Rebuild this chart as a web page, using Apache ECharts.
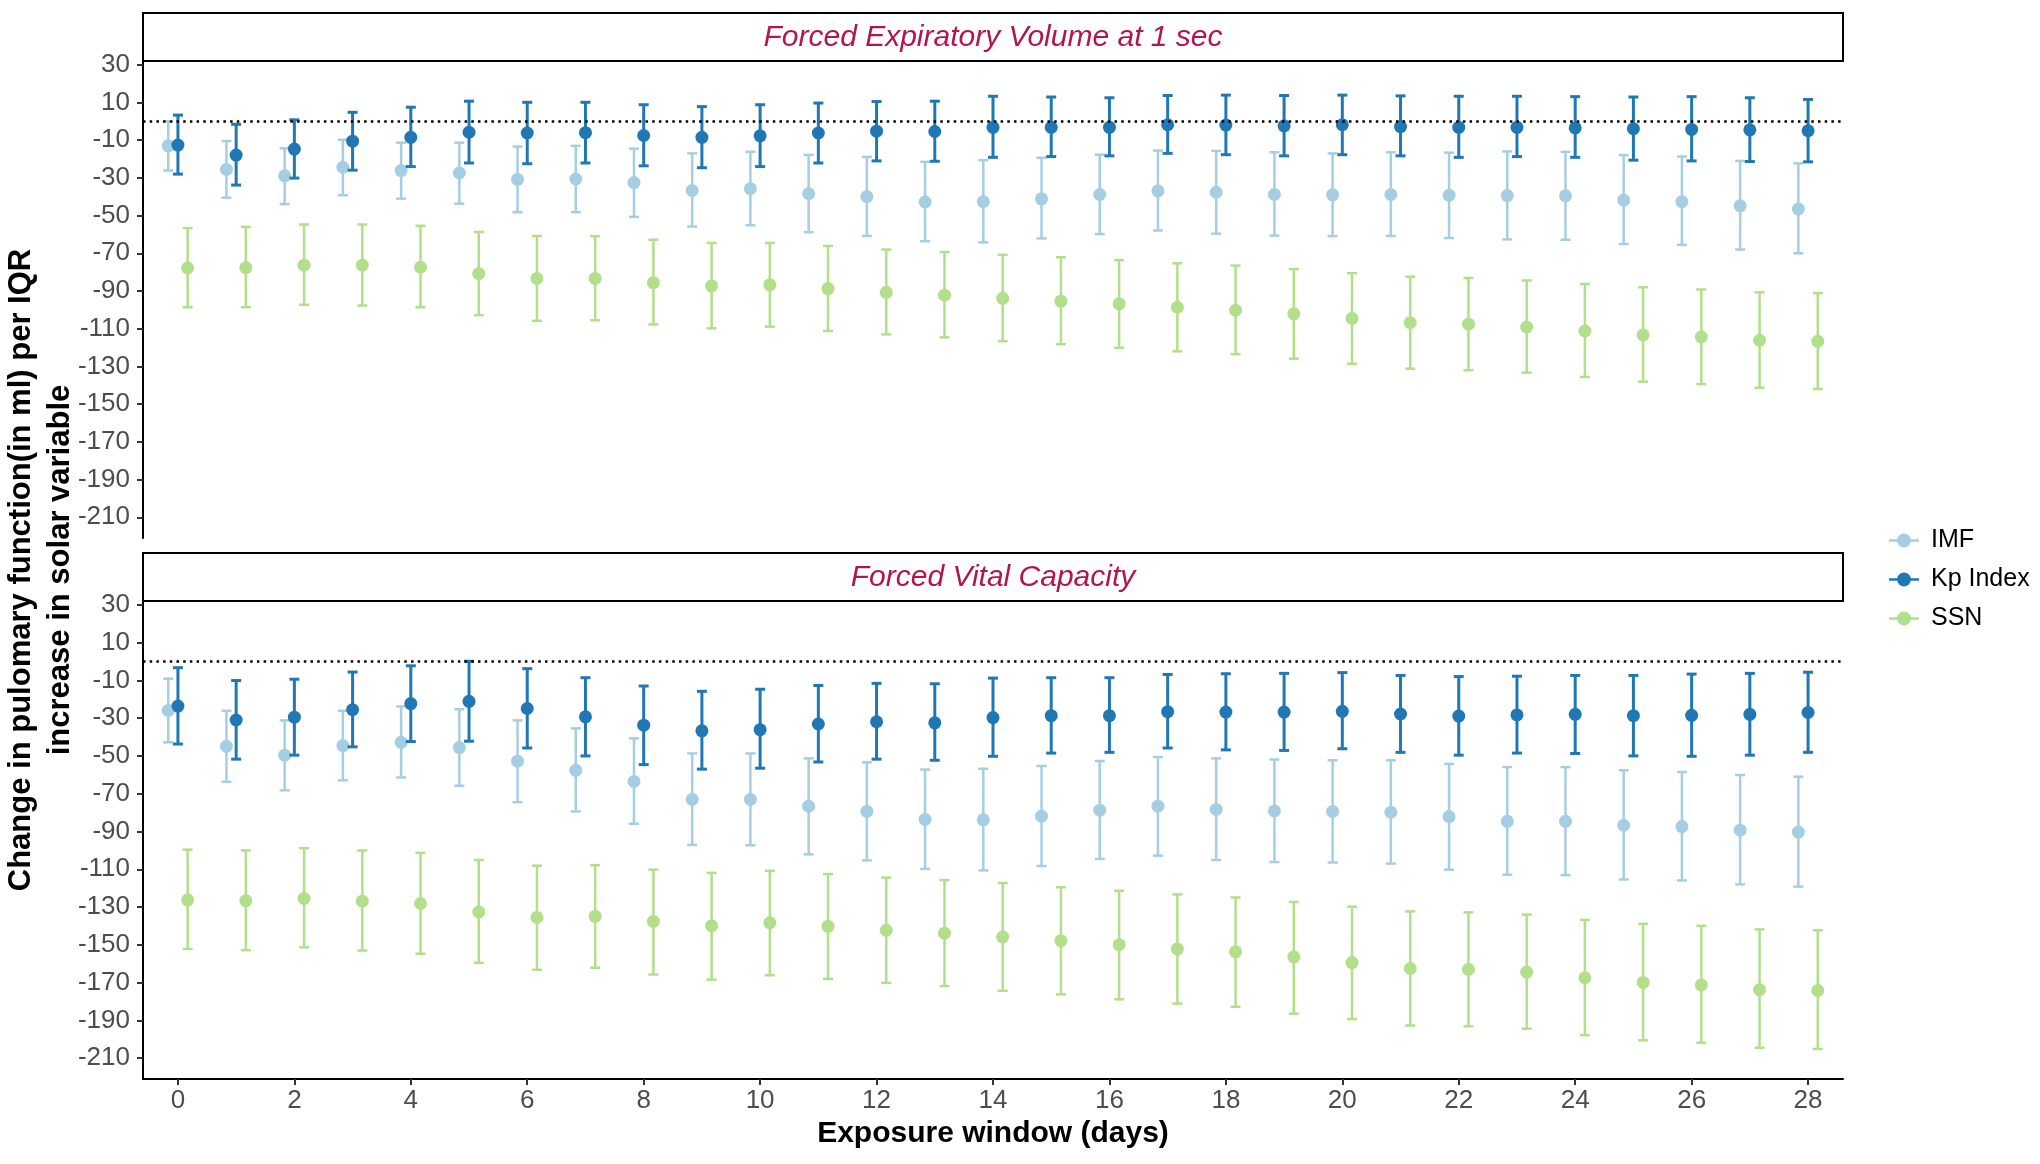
<!DOCTYPE html>
<html><head><meta charset="utf-8">
<script src="https://cdn.jsdelivr.net/npm/echarts@6/dist/echarts.min.js"></script>
<style>html,body{margin:0;padding:0;background:#fff}#c{width:2040px;height:1164px}</style>
</head><body><div id="c"></div>
<script>
// ---------- data ----------
const days = [0,1,2,3,4,5,6,7,8,9,10,11,12,13,14,15,16,17,18,19,20,21,22,23,24,25,26,27,28];
const xTicks = [0,2,4,6,8,10,12,14,16,18,20,22,24,26,28];
const yTicks = [30,10,-10,-30,-50,-70,-90,-110,-130,-150,-170,-190,-210];
const panelTitles = ['Forced Expiratory Volume at 1 sec', 'Forced Vital Capacity'];
const seriesNames = ['IMF', 'Kp Index', 'SSN'];

// Panel 1: FEV1
const fev1_imf_est = [-13.0,-25.5,-28.9,-24.4,-26.1,-27.4,-30.8,-30.6,-32.5,-36.7,-35.7,-38.4,-39.9,-42.8,-42.6,-41.1,-38.8,-36.9,-37.6,-38.8,-39.0,-38.8,-39.2,-39.4,-39.5,-41.8,-42.6,-44.8,-46.5];
const fev1_imf_lo  = [-26.1,-40.5,-43.9,-39.2,-41.0,-43.7,-48.2,-48.2,-50.7,-55.8,-55.1,-58.8,-60.8,-63.6,-64.2,-62.1,-59.8,-57.9,-59.6,-60.6,-60.9,-60.8,-61.9,-62.6,-62.8,-65.1,-65.5,-68.0,-70.0];
const fev1_imf_hi  = [0.0,-10.5,-14.3,-9.8,-11.3,-11.3,-13.4,-13.0,-14.5,-17.0,-16.2,-17.8,-18.9,-21.5,-20.6,-19.3,-17.7,-15.5,-15.7,-16.4,-17.0,-16.4,-16.6,-16.0,-16.2,-17.9,-18.7,-21.0,-22.3];

const fev1_kp_est = [-12.6,-17.9,-14.7,-10.5,-8.5,-5.8,-6.2,-6.0,-7.5,-8.5,-7.7,-6.2,-5.2,-5.4,-3.2,-3.2,-3.2,-1.8,-2.0,-2.4,-1.8,-2.8,-3.2,-3.2,-3.5,-3.9,-4.3,-4.5,-5.0];
const fev1_kp_lo  = [-28.0,-33.8,-30.1,-25.9,-24.0,-22.1,-22.5,-22.1,-23.6,-24.6,-24.0,-22.1,-21.0,-21.2,-19.1,-18.7,-18.3,-17.0,-17.7,-18.3,-17.7,-18.3,-19.1,-18.7,-19.1,-20.6,-21.0,-21.3,-21.5];
const fev1_kp_hi  = [3.3,-1.6,0.8,4.8,7.5,10.7,10.1,10.1,8.8,7.8,8.8,9.7,10.5,10.7,13.3,12.9,12.5,13.7,13.9,13.7,13.9,13.5,13.3,13.3,13.1,12.9,13.1,12.5,11.6];

const fev1_ssn_est = [-77.8,-77.6,-76.3,-76.3,-77.4,-80.8,-83.3,-83.3,-85.6,-87.3,-86.7,-88.7,-90.7,-92.2,-93.9,-95.4,-96.8,-98.6,-100.2,-102.1,-104.5,-106.8,-107.6,-109.1,-111.2,-113.3,-114.4,-116.1,-116.7];
const fev1_ssn_lo  = [-98.6,-98.6,-97.3,-97.7,-98.6,-102.8,-105.8,-105.5,-107.7,-109.8,-108.9,-111.2,-113.0,-114.6,-116.6,-118.2,-120.1,-122.0,-123.5,-125.9,-128.6,-131.2,-132.0,-133.3,-135.6,-138.1,-139.4,-141.3,-142.0];
const fev1_ssn_hi  = [-56.6,-56.0,-54.7,-54.7,-55.4,-58.7,-60.8,-60.9,-62.8,-64.5,-64.5,-66.1,-68.0,-69.3,-70.8,-72.1,-73.6,-75.3,-76.5,-78.4,-80.5,-82.4,-83.1,-84.4,-86.3,-88.0,-89.2,-90.7,-91.1];

// Panel 2: FVC
const fvc_imf_est = [-25.9,-44.9,-49.6,-44.5,-42.8,-45.6,-52.8,-57.6,-63.5,-73.0,-73.0,-76.6,-79.4,-83.6,-83.8,-81.9,-78.7,-76.6,-78.3,-79.1,-79.4,-79.8,-82.1,-84.6,-84.6,-86.7,-87.4,-89.3,-90.3];
const fvc_imf_lo  = [-42.8,-63.7,-68.2,-62.9,-61.4,-65.8,-74.5,-79.4,-85.9,-97.1,-97.3,-102.1,-105.3,-109.8,-110.6,-108.3,-104.5,-102.8,-105.1,-106.2,-106.4,-107.0,-110.2,-112.9,-113.1,-115.4,-115.9,-118.0,-119.2];
const fvc_imf_hi  = [-9.1,-26.1,-31.2,-26.1,-23.8,-25.3,-31.2,-35.4,-40.7,-48.7,-48.7,-51.3,-53.4,-57.2,-56.8,-55.3,-52.7,-50.6,-51.3,-51.9,-52.3,-52.3,-54.2,-55.9,-55.9,-57.6,-58.5,-60.1,-61.0];

const fvc_kp_est = [-23.6,-31.0,-29.5,-25.5,-22.3,-21.1,-24.9,-29.3,-33.7,-36.7,-36.1,-33.1,-31.9,-32.5,-29.7,-28.7,-28.7,-26.6,-26.8,-26.8,-26.4,-27.8,-28.9,-28.3,-28.0,-28.7,-28.5,-28.0,-27.0];
const fvc_kp_lo  = [-43.7,-51.7,-49.6,-45.2,-42.4,-42.2,-45.8,-50.0,-54.6,-57.0,-56.5,-53.2,-51.7,-52.3,-50.2,-48.5,-48.1,-45.8,-46.8,-47.1,-46.2,-48.1,-49.6,-48.5,-48.7,-50.0,-50.2,-49.6,-48.1];
const fvc_kp_hi  = [-3.3,-10.1,-9.4,-5.6,-2.3,0.1,-3.8,-8.6,-13.0,-15.8,-14.7,-12.7,-11.6,-11.8,-8.8,-8.6,-8.6,-6.9,-6.5,-6.3,-5.9,-7.4,-8.0,-7.8,-7.4,-7.4,-6.7,-6.3,-5.7];

const fvc_ssn_est = [-126.2,-126.6,-125.4,-126.9,-128.1,-132.6,-135.5,-134.9,-137.6,-139.9,-138.3,-140.2,-142.3,-143.8,-145.9,-147.8,-149.9,-152.2,-153.7,-156.4,-159.4,-162.5,-163.0,-164.4,-167.4,-169.9,-171.2,-173.7,-174.1];
const fvc_ssn_lo  = [-152.2,-152.8,-151.3,-153.0,-154.7,-159.5,-163.2,-162.1,-165.7,-168.4,-166.1,-168.0,-170.1,-171.8,-174.3,-176.2,-178.8,-181.1,-182.8,-186.4,-189.3,-192.7,-193.1,-194.4,-197.8,-200.5,-201.8,-204.5,-205.1];
const fvc_ssn_hi  = [-99.6,-100.0,-98.8,-100.0,-101.3,-105.1,-108.1,-107.8,-110.2,-111.9,-110.8,-112.5,-114.4,-115.7,-117.3,-119.5,-121.4,-123.3,-124.9,-127.3,-129.8,-132.3,-132.8,-134.0,-136.8,-138.9,-139.9,-141.8,-142.3];

// ---------- styling ----------
const FONT = "'Liberation Sans', Arial, Helvetica, sans-serif";
const colors = {'IMF':'#a6cee3','Kp Index':'#1f78b4','SSN':'#b2df8a'};
const dodge = {'IMF':-1/6,'Kp Index':0,'SSN':1/6};
const GL = 143, GW = 1700;
const grids = [{left:GL, width:GW, top:61, height:477},{left:GL, width:GW, top:601, height:478}];
const strips = [{y:13, h:48},{y:553, h:48}];

function makeSeries(panel, name, est, lo, hi, withZero) {
  const data = days.map((d, i) => [d, est[i], lo[i], hi[i]]);
  const s = {
    type:'custom', name, xAxisIndex:panel, yAxisIndex:panel,
    itemStyle:{color:colors[name]},
    encode:{x:0, y:[1,2,3]},
    data,
    renderItem(params, api) {
      const xv = api.value(0) + dodge[name];
      const pe = api.coord([xv, api.value(1)]);
      const pl = api.coord([xv, api.value(2)]);
      const ph = api.coord([xv, api.value(3)]);
      const c = colors[name];
      const lw = name === 'Kp Index' ? 3 : 2.5;
      const cap = 5;
      const st = {stroke:c, lineWidth:lw};
      return {type:'group', children:[
        {type:'line', shape:{x1:pl[0], y1:pl[1], x2:ph[0], y2:ph[1]}, style:st},
        {type:'line', shape:{x1:pl[0]-cap, y1:pl[1], x2:pl[0]+cap, y2:pl[1]}, style:st},
        {type:'line', shape:{x1:ph[0]-cap, y1:ph[1], x2:ph[0]+cap, y2:ph[1]}, style:st},
        {type:'circle', shape:{cx:pe[0], cy:pe[1], r:6.5}, style:{fill:c}}
      ]};
    }
  };
  if (withZero) {
    s.markLine = {silent:true, symbol:['none','none'], label:{show:false},
      lineStyle:{color:'#000', width:2.5, type:[2.5,4.2]}, data:[{yAxis:0}]};
  }
  return s;
}

const series = [
  makeSeries(0, 'IMF', fev1_imf_est, fev1_imf_lo, fev1_imf_hi, true),
  makeSeries(0, 'Kp Index', fev1_kp_est, fev1_kp_lo, fev1_kp_hi, false),
  makeSeries(0, 'SSN', fev1_ssn_est, fev1_ssn_lo, fev1_ssn_hi, false),
  makeSeries(1, 'IMF', fvc_imf_est, fvc_imf_lo, fvc_imf_hi, true),
  makeSeries(1, 'Kp Index', fvc_kp_est, fvc_kp_lo, fvc_kp_hi, false),
  makeSeries(1, 'SSN', fvc_ssn_est, fvc_ssn_lo, fvc_ssn_hi, false)
];

function xAxis(i) {
  const bottom = i === 1;
  return {
    type:'value', gridIndex:i, min:-0.6, max:28.6,
    splitLine:{show:false},
    axisLine:{show:bottom, onZero:false, lineStyle:{color:'#000', width:2}},
    axisTick:{show:bottom, length:6, lineStyle:{color:'#333', width:2}, customValues:xTicks},
    axisLabel:{show:bottom, fontSize:26, color:'#4d4d4d', fontFamily:FONT, margin:9, customValues:xTicks},
    name: bottom ? 'Exposure window (days)' : '',
    nameLocation:'middle', nameGap:40,
    nameTextStyle:{fontSize:30, fontWeight:'bold', color:'#000', fontFamily:FONT}
  };
}
function yAxis(i) {
  return {
    type:'value', gridIndex:i, min:-221, max:32,
    splitLine:{show:false},
    axisLine:{show:true, onZero:false, lineStyle:{color:'#000', width:2}},
    axisTick:{show:true, length:6, lineStyle:{color:'#333', width:2}, customValues:yTicks},
    axisLabel:{fontSize:26, color:'#4d4d4d', fontFamily:FONT, margin:13, customValues:yTicks}
  };
}

const graphics = [];
strips.forEach((s, i) => {
  graphics.push({type:'rect', shape:{x:GL, y:s.y, width:GW, height:s.h},
    style:{fill:'#fff', stroke:'#000', lineWidth:2}});
  graphics.push({type:'text', x:GL + GW/2, y:s.y + s.h/2 + 1,
    style:{text:panelTitles[i], font:"italic 30px " + FONT, fill:'#b3164f', align:'center', verticalAlign:'middle'}});
});
graphics.push({type:'text', x:41, y:570, rotation:Math.PI/2,
  style:{text:'Change in pulomary function(in ml) per IQR\nincrease in solar variable',
    font:"bold 31px " + FONT, fill:'#000', align:'center', verticalAlign:'middle', lineHeight:39}});

const legendIcon = 'path://M0,5 L26,5 L26,7 L0,7 Z M13,0 A6,6 0 1,1 12.99,0 Z';

const chart = echarts.init(document.getElementById('c'), null, {renderer:'canvas'});
chart.setOption({
  backgroundColor:'#fff',
  animation:false,
  grid:grids,
  xAxis:[xAxis(0), xAxis(1)],
  yAxis:[yAxis(0), yAxis(1)],
  legend:{orient:'vertical', left:1884, top:523, itemGap:14, itemWidth:30, itemHeight:14,
    selectedMode:false,
    data:seriesNames.map(n => ({name:n, icon:legendIcon})),
    textStyle:{fontSize:25, color:'#000', fontFamily:FONT, padding:[0,0,0,7]}},
  graphic:graphics,
  series
});
</script></body></html>
